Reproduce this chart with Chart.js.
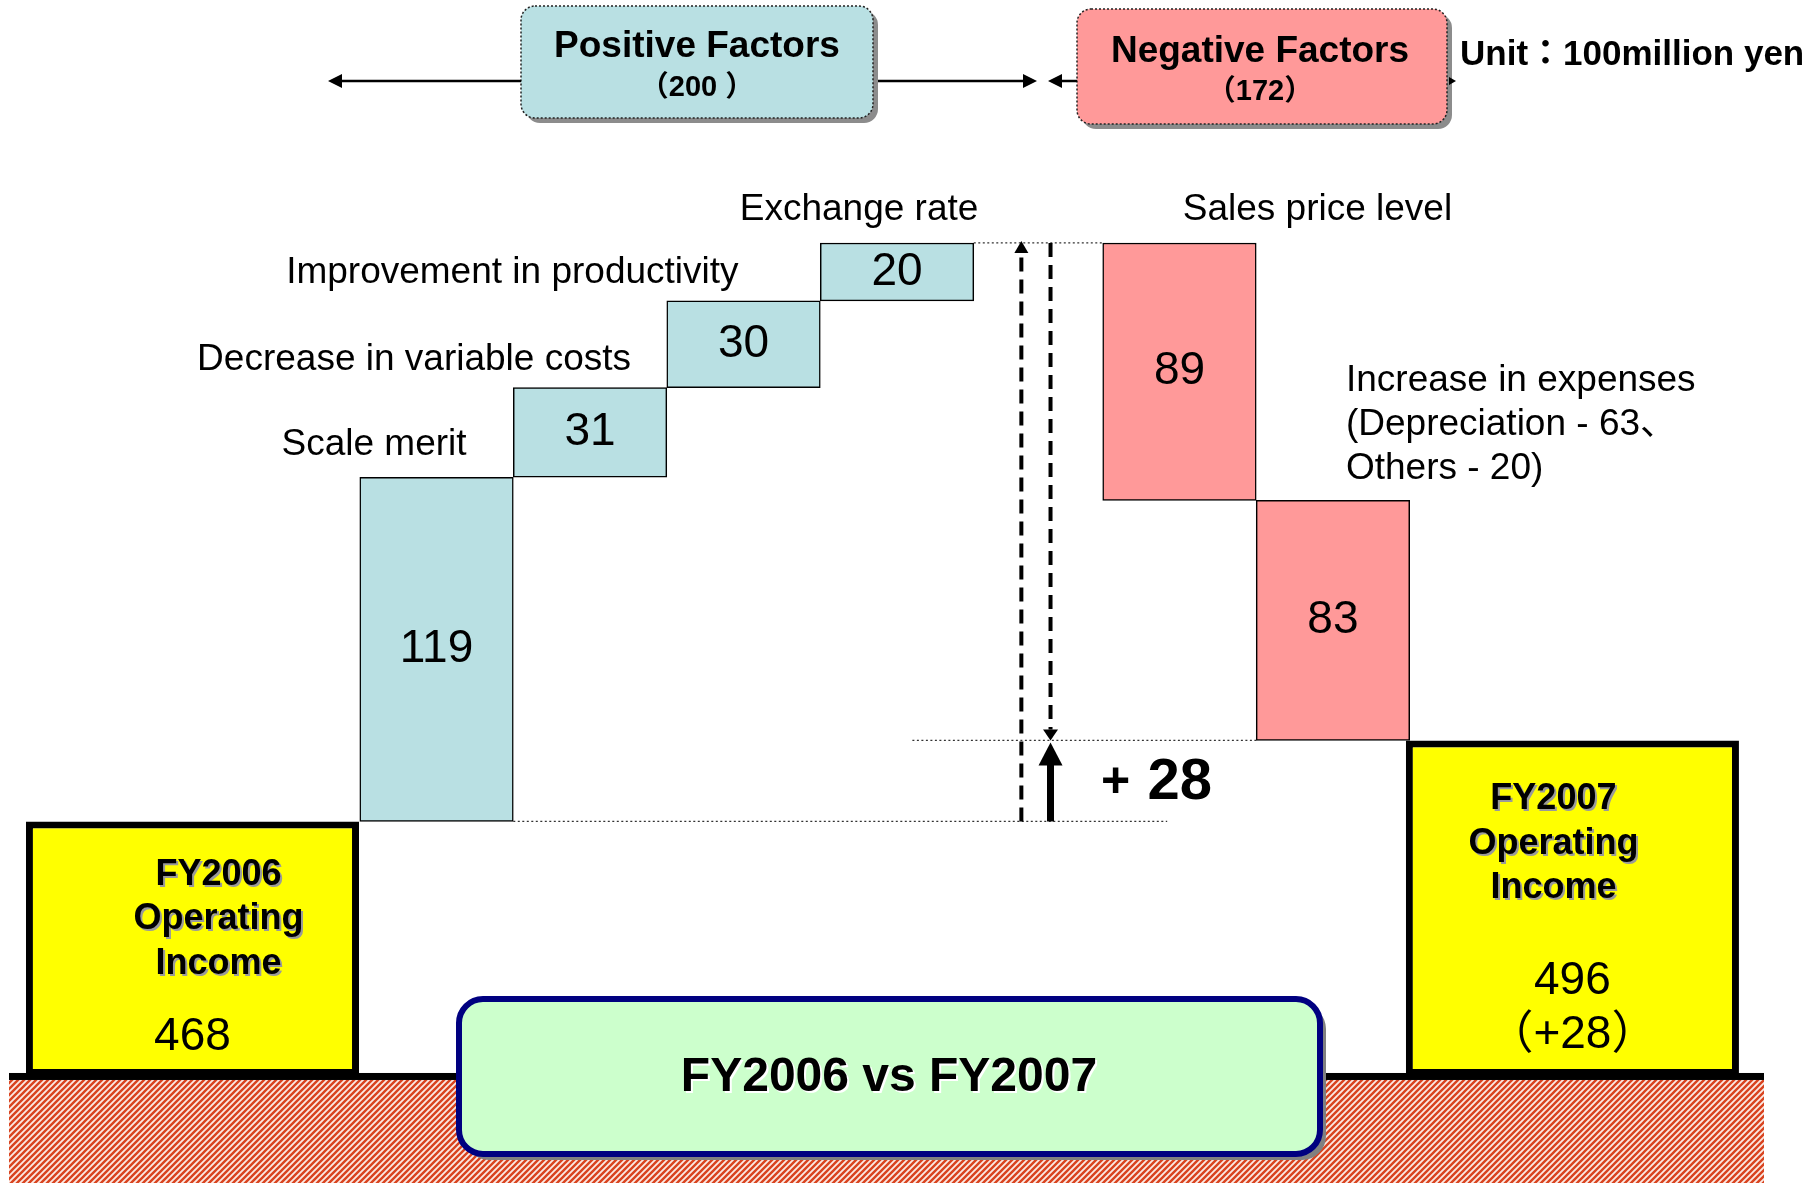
<!DOCTYPE html>
<html>
<head>
<meta charset="utf-8">
<title>FY2006 vs FY2007 Operating Income</title>
<script src="https://cdn.jsdelivr.net/npm/chart.js@4.4.1/dist/chart.umd.min.js"></script>
<style>
  html, body { margin: 0; padding: 0; background: #fff; }
  canvas { display: block; }
</style>
</head>
<body>
<canvas id="chart" width="1820" height="1183"></canvas>
<script>
// data (unit: 100 million yen)
const incomeLabels = ['FY2006', 'FY2007'];
const incomeValues = [468, 496];
const positiveLabels = [['Scale merit'], ['Decrease in variable costs'], ['Improvement in productivity'], ['Exchange rate']];
const positiveValues = [119, 31, 30, 20];
const negativeLabels = [['Sales price level'], ['Increase in expenses', '(Depreciation - 63、', 'Others - 20)']];
const negativeValues = [89, 83];
const unitLabel = 'Unit：100million yen';

// layout: x in "columns" (one factor bar = one column)
const incomeSlots = [-0.59, 8.4];
const positiveSlots = [1, 2, 3, 4];
const negativeSlots = [5.84, 6.84];
const arrowSlots = [4.81, 5.0];
const axisFloor = 380; // broken axis, income boxes stand on the ground

const positivePlacement = [
  {align: 'right', dx: 30, dy: [-32]},
  {align: 'right', dx: 41, dy: [-28]},
  {align: 'right', dx: -5, dy: [-28]},
  {align: 'center', dx: -38, dy: [-33]}
];
const negativePlacement = [
  {align: 'center', dx: 138, dy: [-33]},
  {align: 'left', dx: 13, dy: [-120, -76, -32]}
];

const positiveTotal = positiveValues.reduce((a, b) => a + b, 0);
const negativeTotal = negativeValues.reduce((a, b) => a + b, 0);
const change = incomeValues[1] - incomeValues[0];

let run = incomeValues[0];
const positiveBars = positiveValues.map((v, i) => {
  const bar = {x: positiveSlots[i], y: [run, run + v]};
  run += v;
  return bar;
});
const peak = run;
const negativeBars = negativeValues.map((v, i) => {
  const bar = {x: negativeSlots[i], y: [run - v, run]};
  run -= v;
  return bar;
});
const incomeBars = incomeValues.map((v, i) => ({x: incomeSlots[i], y: [axisFloor, v]}));

const FONT = "'Liberation Sans', Arial, 'Noto Sans CJK JP', sans-serif";
const font = (size, bold) => (bold ? 'bold ' : '') + size + 'px ' + FONT;

function text(ctx, str, x, y, f, align, shadow) {
  ctx.font = f;
  ctx.textAlign = align || 'center';
  ctx.textBaseline = 'middle';
  if (shadow) {
    ctx.fillStyle = shadow;
    ctx.fillText(str, x + 2, y + 2);
  }
  ctx.fillStyle = '#000';
  ctx.fillText(str, x, y);
}

function head(ctx, x, y, dir, len, half) {
  const d = {up: [0, 1], down: [0, -1], left: [1, 0], right: [-1, 0]}[dir];
  const bx = x + d[0] * len, by = y + d[1] * len;
  ctx.beginPath();
  ctx.moveTo(x, y);
  ctx.lineTo(bx + d[1] * half, by + d[0] * half);
  ctx.lineTo(bx - d[1] * half, by - d[0] * half);
  ctx.closePath();
  ctx.fill();
}

function line(ctx, x1, y1, x2, y2, width, dash, color) {
  ctx.save();
  ctx.strokeStyle = color || '#000';
  ctx.lineWidth = width;
  ctx.setLineDash(dash || []);
  ctx.beginPath();
  ctx.moveTo(x1, y1);
  ctx.lineTo(x2, y2);
  ctx.stroke();
  ctx.restore();
}

function factorBox(ctx, x, y, w, h, fill) {
  ctx.save();
  ctx.fillStyle = '#8c8c8c';
  ctx.beginPath(); ctx.roundRect(x + 5, y + 5, w, h, 14); ctx.fill();
  ctx.fillStyle = fill;
  ctx.beginPath(); ctx.roundRect(x, y, w, h, 14); ctx.fill();
  ctx.strokeStyle = '#222';
  ctx.lineWidth = 1.5;
  ctx.setLineDash([2, 2]);
  ctx.stroke();
  ctx.restore();
}

function hatch(ctx) {
  const c = document.createElement('canvas');
  c.width = c.height = 6;
  const g = c.getContext('2d');
  g.fillStyle = '#fbeae4';
  g.fillRect(0, 0, 6, 6);
  g.strokeStyle = '#d9431f';
  g.lineWidth = 2.4;
  g.beginPath();
  g.moveTo(0, 6); g.lineTo(6, 0);
  g.moveTo(-3, 3); g.lineTo(3, -3);
  g.moveTo(3, 9); g.lineTo(9, 3);
  g.stroke();
  return ctx.createPattern(c, 'repeat');
}

const bridgeDecor = {
  id: 'bridgeDecor',
  beforeDatasetsDraw(chart) {
    const {ctx} = chart;
    const yG = chart.scales.y.getPixelForValue(axisFloor);
    ctx.save();
    ctx.fillStyle = hatch(ctx);
    ctx.fillRect(9, yG + 4, 1755, chart.height - yG);
    ctx.fillStyle = '#000';
    ctx.fillRect(9, yG - 3, 1755, 7);
    ctx.restore();
  },
  afterDatasetsDraw(chart) {
    const {ctx} = chart;
    const xs = chart.scales.x, ys = chart.scales.y;
    const yG = ys.getPixelForValue(axisFloor);
    const props = (ds, i) => chart.getDatasetMeta(ds).data[i].getProps(['x', 'y', 'base', 'width'], true);
    ctx.save();

    // income boxes
    incomeValues.forEach((v, i) => {
      const p = props(0, i);
      const lines = [incomeLabels[i], 'Operating', 'Income'];
      const ly = i === 0 ? [-201, -157, -112] : [-277, -232, -188];
      const lx = i === 0 ? 26 : -19;
      lines.forEach((s, k) => text(ctx, s, p.x + lx, yG + ly[k], font(36, true), 'center', '#9a9a9a'));
      if (i === 0) {
        text(ctx, String(v), p.x, yG - 39, font(46));
      } else {
        text(ctx, String(v), p.x, yG - 95, font(46));
        text(ctx, '（+' + change + '）', p.x, yG - 41, font(46));
      }
    });

    // factor values and labels
    const drawFactor = (ds, values, labels, place) => {
      values.forEach((v, i) => {
        const p = props(ds, i);
        const top = Math.min(p.y, p.base), bottom = Math.max(p.y, p.base);
        text(ctx, String(v), p.x, (top + bottom) / 2, font(46));
        const pl = place[i];
        labels[i].forEach((s, k) => text(ctx, s, p.x + pl.dx, top + pl.dy[k], font(37), pl.align));
      });
    };
    drawFactor(1, positiveValues, positiveLabels, positivePlacement);
    drawFactor(2, negativeValues, negativeLabels, negativePlacement);

    // guide lines
    const yPeak = ys.getPixelForValue(peak);
    const yStart = ys.getPixelForValue(incomeValues[0]);
    const yEnd = ys.getPixelForValue(incomeValues[1]);
    const p20 = props(1, positiveValues.length - 1);
    const p119 = props(1, 0);
    const p89 = props(2, 0);
    const p83 = props(2, 1);
    line(ctx, p20.x + p20.width / 2, yPeak, p89.x - p89.width / 2, yPeak, 1.3, [2, 2.5], '#333');
    line(ctx, xs.getPixelForValue(4.1), yEnd, p83.x - p83.width / 2, yEnd, 1.3, [2, 2.5], '#333');
    line(ctx, p119.x + p119.width / 2, yStart, xs.getPixelForValue(5.76), yStart, 1.3, [2, 2.5], '#333');

    // arrows between the two sides
    const ax1 = xs.getPixelForValue(arrowSlots[0]);
    const ax2 = xs.getPixelForValue(arrowSlots[1]);
    ctx.fillStyle = '#000';
    line(ctx, ax1, yStart, ax1, yPeak + 12, 4, [14, 8]);
    head(ctx, ax1, yPeak - 2, 'up', 12, 7);
    line(ctx, ax2, yPeak, ax2, yEnd - 11, 4, [14, 8]);
    head(ctx, ax2, yEnd, 'down', 11, 7.5);
    line(ctx, ax2, yStart, ax2, yEnd + 20, 7);
    ctx.fillStyle = '#000';
    head(ctx, ax2, yEnd + 2, 'up', 23, 12);
    const yMid = (yStart + yEnd) / 2 + 2;
    text(ctx, '+', ax2 + 65, yMid, font(50, true));
    text(ctx, String(change), ax2 + 97, yMid, font(58, true), 'left');

    // header boxes and arrows
    factorBox(ctx, 521, 6, 352, 112, '#b9e0e3');
    factorBox(ctx, 1077, 9, 370, 115, '#ff9999');
    ctx.fillStyle = '#000';
    line(ctx, 336, 81, 521, 81, 2.5);
    head(ctx, 328, 81, 'left', 14, 7);
    line(ctx, 878, 81, 1026, 81, 2.5);
    head(ctx, 1037, 81, 'right', 14, 7);
    line(ctx, 1060, 81, 1077, 81, 2.5);
    head(ctx, 1048, 81, 'left', 14, 7);
    head(ctx, 1456, 81, 'right', 7, 4);
    text(ctx, 'Positive Factors', 697, 47, font(37, true));
    text(ctx, '（' + positiveTotal + ' ）', 697, 88, font(29, true));
    text(ctx, 'Negative Factors', 1260, 52, font(37, true));
    text(ctx, '（' + negativeTotal + '）', 1260, 92, font(29, true));
    text(ctx, unitLabel, 1460, 55, font(35, true), 'left');

    // title plate
    ctx.fillStyle = '#808080';
    ctx.beginPath(); ctx.roundRect(465, 1005, 861, 155, 24); ctx.fill();
    ctx.fillStyle = '#ccffcc';
    ctx.beginPath(); ctx.roundRect(459, 999, 861, 155, 24); ctx.fill();
    ctx.strokeStyle = '#000080';
    ctx.lineWidth = 6;
    ctx.stroke();
    text(ctx, incomeLabels[0] + ' vs ' + incomeLabels[1], 889, 1078, font(48, true), 'center', '#ffffff');

    ctx.restore();
  }
};

const common = {categoryPercentage: 1, grouped: false, borderSkipped: false, borderColor: '#000'};

new Chart(document.getElementById('chart'), {
  type: 'bar',
  data: {
    datasets: [
      Object.assign({label: 'Operating income', data: incomeBars, backgroundColor: '#ffff00', borderWidth: 7, barPercentage: 2.17}, common),
      Object.assign({label: 'Positive factors', data: positiveBars, backgroundColor: '#b9e0e3', borderWidth: 1.5, barPercentage: 1}, common),
      Object.assign({label: 'Negative factors', data: negativeBars, backgroundColor: '#ff9999', borderWidth: 1.5, barPercentage: 1}, common)
    ]
  },
  options: {
    responsive: false,
    animation: false,
    devicePixelRatio: 1,
    events: [],
    layout: {padding: 0},
    plugins: {
      legend: {display: false},
      tooltip: {enabled: false}
    },
    scales: {
      x: {type: 'linear', display: false, offset: false, min: -1.844, max: 10.013, ticks: {stepSize: 1, includeBounds: false}},
      y: {type: 'linear', display: false, min: 343, max: 752}
    }
  },
  plugins: [bridgeDecor]
});
</script>
</body>
</html>
